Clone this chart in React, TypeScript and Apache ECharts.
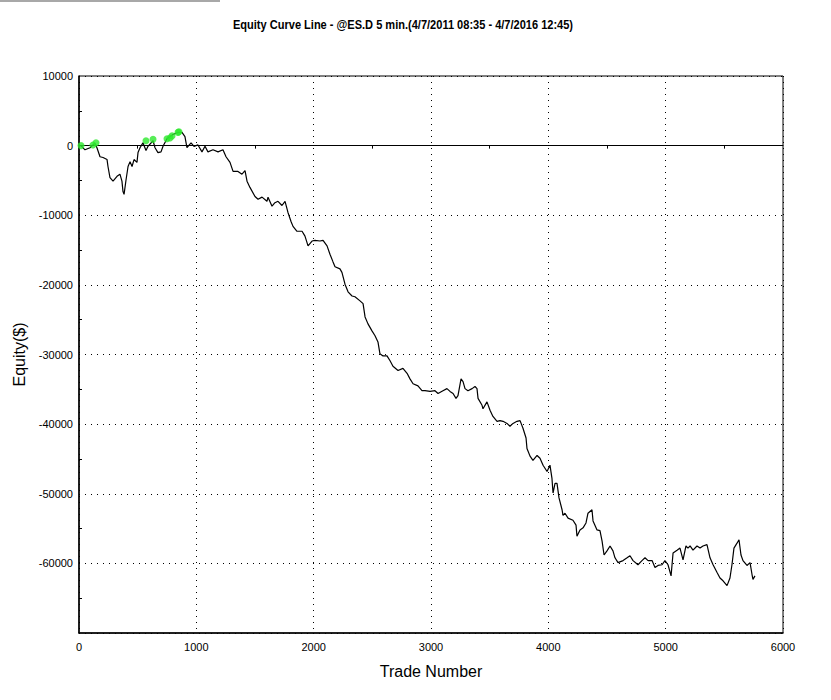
import React, { useEffect, useRef } from 'react';
import * as echarts from 'echarts';

const TITLE = 'Equity Curve Line - @ES.D 5 min.(4/7/2011 08:35 - 4/7/2016 12:45)';
const X_NAME = 'Trade Number';
const Y_NAME = 'Equity($)';

const trades = [
  0, 17, 51, 94, 119, 136, 153, 179, 205, 239, 247, 264, 290, 324, 349, 366, 375, 384, 401, 418,
  435, 452, 469, 494, 503, 520, 545, 571, 588, 631, 648, 673, 699, 716, 750, 776, 801, 844, 878, 903,
  920, 955, 980, 1014, 1048, 1074, 1099, 1142, 1185, 1227, 1253, 1287, 1313, 1355, 1389, 1415, 1432, 1457, 1500, 1526,
  1560, 1602, 1611, 1645, 1670, 1696, 1730, 1756, 1781, 1807, 1824, 1858, 1901, 1926, 1952, 1986, 2011, 2054, 2080, 2114,
  2139, 2165, 2182, 2224, 2241, 2267, 2293, 2327, 2352, 2395, 2421, 2438, 2463, 2497, 2523, 2548, 2565, 2591, 2625, 2651,
  2676, 2719, 2761, 2796, 2821, 2847, 2889, 2923, 2949, 2992, 3034, 3060, 3102, 3136, 3162, 3188, 3213, 3230, 3256, 3273,
  3290, 3315, 3350, 3375, 3392, 3401, 3435, 3443, 3477, 3503, 3528, 3563, 3588, 3614, 3648, 3673, 3699, 3733, 3759, 3784,
  3810, 3818, 3844, 3869, 3904, 3929, 3955, 3989, 4014, 4031, 4040, 4057, 4074, 4091, 4117, 4125, 4142, 4168, 4210, 4236,
  4244, 4270, 4296, 4321, 4338, 4372, 4381, 4415, 4440, 4458, 4475, 4500, 4526, 4551, 4568, 4594, 4637, 4671, 4696, 4722,
  4764, 4798, 4824, 4850, 4884, 4909, 4935, 4969, 4994, 5020, 5046, 5063, 5097, 5122, 5148, 5173, 5190, 5208, 5233, 5267,
  5293, 5318, 5352, 5378, 5404, 5438, 5463, 5489, 5523, 5548, 5565, 5582, 5608, 5625, 5642, 5659, 5693, 5719, 5736, 5744,
  5761,
];

const equity = [
  0, 0, -600, -300, 100, 300, -300, -1600, -1700, -2000, -3000, -4600, -5100, -4400, -4100, -5100, -6600, -7000, -4900, -3000,
  -2300, -3000, -2000, -2400, -1000, -300, 400, -700, -100, 700, -300, -1000, -900, -100, 1000, 1300, 1600, 1900, 1900, 1300,
  -300, 400, -100, 100, -900, -100, -900, -600, -900, -600, -1600, -2400, -3700, -3700, -4100, -3600, -5100, -6000, -7300, -7700,
  -7400, -8000, -7400, -8700, -8200, -8000, -8600, -8000, -9600, -10900, -11600, -12300, -12300, -13000, -14400, -13700, -13600, -13700, -13600, -14400,
  -15600, -16700, -17400, -17700, -18200, -19900, -21000, -21600, -21700, -22300, -22700, -24600, -25600, -26600, -27300, -28200, -29900, -30200, -30200, -30900,
  -31700, -32300, -32000, -32700, -33500, -34200, -34500, -35200, -35200, -35300, -35200, -35600, -35200, -34900, -35300, -35600, -36300, -35900, -33500, -33900,
  -34900, -35200, -34900, -34600, -34900, -36300, -37300, -37800, -36800, -38000, -38900, -39600, -39500, -39600, -39900, -40300, -39900, -39600, -39500, -40600,
  -42000, -43500, -44600, -45200, -44500, -44900, -45900, -46800, -45900, -47800, -49900, -48500, -48500, -50600, -52300, -53100, -52800, -53500, -53800, -54500,
  -56100, -55200, -54900, -54200, -52800, -52300, -53900, -55200, -55300, -56800, -58800, -58200, -57500, -58200, -59200, -59900, -59600, -59200, -58900, -59600,
  -60200, -59600, -59200, -59600, -59600, -60600, -60300, -60200, -59600, -60200, -61800, -58500, -58100, -57800, -59500, -57500, -57800, -57500, -58100, -57500,
  -57800, -57500, -57300, -59200, -60200, -61300, -62100, -62500, -63200, -62100, -60200, -57800, -57100, -56600, -58800, -59600, -60300, -59900, -61600, -62300,
  -61800,
];

const highTrades = [17, 119, 145, 571, 631, 750, 776, 793, 844, 852];
const highEquity = [0, 100, 400, 700, 900, 1000, 1100, 1400, 1900, 2000];

const X_MIN = 0;
const X_MAX = 6000;
const Y_MIN = -70000;
const Y_MAX = 10000;

export default function App() {
  const ref = useRef<HTMLDivElement>(null);

  useEffect(() => {
    if (!ref.current) return;
    const chart = echarts.init(ref.current, null, { renderer: 'svg' });
    const sans = '"Liberation Sans", Arial, sans-serif';
    chart.setOption({
      animation: false,
      backgroundColor: '#ffffff',
      graphic: [
        { type: 'rect', shape: { x: 0, y: 0, width: 220, height: 2 }, style: { fill: '#a8a8a8' } },
        {
          type: 'text',
          x: 403,
          y: 25,
          scaleX: 0.85,
          style: {
            text: TITLE,
            fontFamily: sans,
            fontWeight: 'bold',
            fontSize: 13,
            fill: '#000',
            textAlign: 'center',
            textVerticalAlign: 'middle',
          },
        },
      ],
      grid: {
        left: 79,
        right: 48,
        top: 76,
        bottom: 67,
        show: true,
        borderColor: '#000',
        borderWidth: 1,
        backgroundColor: 'transparent',
        containLabel: false,
      },
      xAxis: [
        {
          type: 'value',
          min: X_MIN,
          max: X_MAX,
          interval: 1000,
          position: 'bottom',
          name: X_NAME,
          nameLocation: 'middle',
          nameGap: 30,
          nameTextStyle: { fontFamily: sans, fontSize: 16, color: '#000' },
          axisLine: { show: true, onZero: false, lineStyle: { color: '#000', width: 1.5 } },
          axisTick: { show: false },
          axisLabel: { color: '#000', fontFamily: sans, fontSize: 11, margin: 8, formatter: (v: number) => String(v) },
          splitLine: { show: true, lineStyle: { color: '#000', width: 1, type: [1, 5] } },
        },
        {
          type: 'value',
          min: X_MIN,
          max: X_MAX,
          interval: 1000,
          position: 'top',
          axisLine: { show: true, onZero: true, onZeroAxisIndex: 0, lineStyle: { color: '#000', width: 1 } },
          axisTick: { show: false, inside: true },
          minorTick: { show: true, splitNumber: 2, length: 3, lineStyle: { color: '#000', width: 1 } },
          axisLabel: { show: false },
          splitLine: { show: false },
        },
      ],
      yAxis: {
        type: 'value',
        min: Y_MIN,
        max: Y_MAX,
        interval: 10000,
        name: Y_NAME,
        nameLocation: 'middle',
        nameGap: 33,
        nameTextStyle: { fontFamily: sans, fontSize: 16, color: '#000' },
        axisLine: { show: true, lineStyle: { color: '#000', width: 1.5 } },
        axisTick: { show: false, inside: true },
        minorTick: { show: true, splitNumber: 2, length: 3, lineStyle: { color: '#000', width: 1 } },
        axisLabel: {
          color: '#000',
          fontFamily: sans,
          fontSize: 11,
          margin: 6,
          formatter: (v: number) => (v === Y_MIN ? '' : String(v)),
        },
        splitLine: { show: true, lineStyle: { color: '#000', width: 1, type: [1, 5] } },
      },
      series: [
        {
          type: 'line',
          xAxisIndex: 0,
          data: trades.map((t, i) => [t, equity[i]]),
          symbol: 'none',
          lineStyle: { color: '#000', width: 1.2 },
          z: 3,
        },
        {
          type: 'scatter',
          xAxisIndex: 0,
          data: highTrades.map((t, i) => [t, highEquity[i]]),
          symbol: 'circle',
          symbolSize: 7,
          itemStyle: { color: '#2de82d' },
          z: 4,
        },
      ],
    });
    return () => chart.dispose();
  }, []);

  return (
    <div
      ref={ref}
      style={{ position: 'absolute', left: 0, top: 0, width: 831, height: 700, background: '#fff' }}
    />
  );
}
